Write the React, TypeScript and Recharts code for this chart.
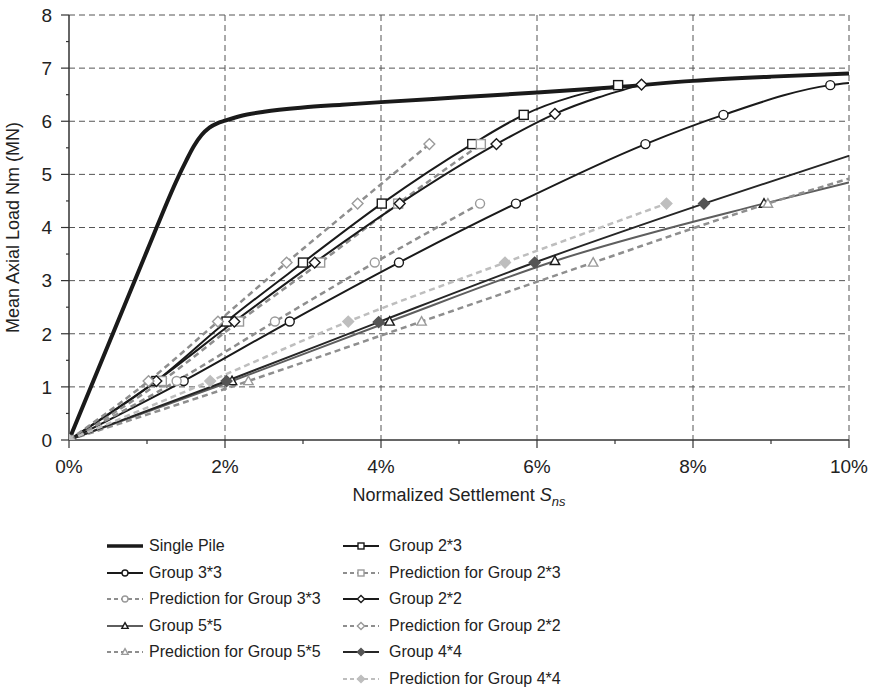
import React from 'react';
import { LineChart, Line, XAxis, YAxis, CartesianGrid } from 'recharts';

type Pt = [number, number];

// settlement (%) vs mean axial load (MN)
const X_TICKS = [0, 1, 2, 3, 4, 5, 6, 7, 8, 9, 10];
const Y_TICKS = [0, 0.5, 1, 1.5, 2, 2.5, 3, 3.5, 4, 4.5, 5, 5.5, 6, 6.5, 7, 7.5, 8];
const X_GRID = [2, 4, 6, 8, 10];
const Y_GRID = [1, 2, 3, 4, 5, 6, 7, 8];

const singlePile: Pt[] = [
  [0, 0], [1.0, 3.56], [1.4, 4.95], [1.5, 5.25], [1.6, 5.53], [1.7, 5.74], [1.8, 5.88],
  [1.9, 5.96], [2.0, 6.01], [2.2, 6.1], [2.5, 6.18], [3.0, 6.26], [3.5, 6.31], [4, 6.36],
  [5, 6.45], [6, 6.54], [7, 6.64], [8, 6.76], [9, 6.84], [10, 6.9],
];
const group33: Pt[] = [[0, 0], [1.47, 1.11], [2.83, 2.23], [4.23, 3.34], [5.73, 4.45], [7.39, 5.57], [8.39, 6.12], [9.76, 6.68], [10, 6.72]];
const pred33: Pt[] = [[0, 0], [1.38, 1.11], [2.64, 2.23], [3.92, 3.34], [5.27, 4.45]];
const group55: Pt[] = [[0, 0], [2.09, 1.11], [4.11, 2.23], [6.23, 3.37], [8.91, 4.45], [10, 4.85]];
const pred55: Pt[] = [[0, 0], [2.3, 1.11], [4.52, 2.23], [6.72, 3.34], [8.96, 4.45], [10, 4.92]];
const group23: Pt[] = [[0, 0], [1.12, 1.11], [2.02, 2.23], [3.0, 3.34], [4.01, 4.45], [5.17, 5.57], [5.83, 6.12], [7.04, 6.68]];
const pred23: Pt[] = [[0, 0], [1.19, 1.11], [2.18, 2.23], [3.22, 3.34], [4.22, 4.45], [5.28, 5.57]];
const group22: Pt[] = [[0, 0], [1.12, 1.11], [2.12, 2.23], [3.15, 3.34], [4.24, 4.45], [5.48, 5.57], [6.23, 6.14], [7.34, 6.69]];
const pred22: Pt[] = [[0, 0], [1.02, 1.11], [1.91, 2.23], [2.79, 3.34], [3.7, 4.45], [4.62, 5.57]];
const group44: Pt[] = [[0, 0], [2.02, 1.11], [3.97, 2.22], [5.97, 3.34], [8.14, 4.45], [10, 5.35]];
const pred44: Pt[] = [[0, 0], [1.81, 1.11], [3.58, 2.23], [5.59, 3.34], [7.66, 4.45]];

const FONT = '"Liberation Sans", Arial, Helvetica, sans-serif';
const INK = '#1a1a1a';
const AXIS = '#333';
const GRID = '#555';
const PRED = '#8e8e8e';
const PRED_MARK = '#9a9a9a';
const LIGHT = '#bebebe';
const TEXT = '#222';

type Shape = 'none' | 'square' | 'circle' | 'diamond' | 'triangle';

interface SeriesDef {
  name: string;
  data: Pt[];
  stroke: string;
  width: number;
  dash?: string;
  shape: Shape;
  markStroke: string;
  markFill: string;
  col: number;
  row: number;
}

const SERIES: SeriesDef[] = [
  { name: 'Single Pile', data: singlePile, stroke: INK, width: 4, shape: 'none', markStroke: INK, markFill: INK, col: 0, row: 0 },
  { name: 'Group 3*3', data: group33, stroke: INK, width: 2, shape: 'circle', markStroke: INK, markFill: '#fff', col: 0, row: 1 },
  { name: 'Prediction for Group 3*3', data: pred33, stroke: PRED, width: 2.5, dash: '6 4', shape: 'circle', markStroke: PRED_MARK, markFill: '#fff', col: 0, row: 2 },
  { name: 'Group 5*5', data: group55, stroke: '#5e5e5e', width: 2, shape: 'triangle', markStroke: INK, markFill: '#fff', col: 0, row: 3 },
  { name: 'Prediction for Group 5*5', data: pred55, stroke: PRED, width: 2.5, dash: '6 4', shape: 'triangle', markStroke: PRED_MARK, markFill: '#fff', col: 0, row: 4 },
  { name: 'Group 2*3', data: group23, stroke: INK, width: 2, shape: 'square', markStroke: INK, markFill: '#fff', col: 1, row: 0 },
  { name: 'Prediction for Group 2*3', data: pred23, stroke: PRED, width: 2.5, dash: '6 4', shape: 'square', markStroke: PRED_MARK, markFill: '#fff', col: 1, row: 1 },
  { name: 'Group 2*2', data: group22, stroke: INK, width: 2, shape: 'diamond', markStroke: INK, markFill: '#fff', col: 1, row: 2 },
  { name: 'Prediction for Group 2*2', data: pred22, stroke: PRED, width: 2.5, dash: '6 4', shape: 'diamond', markStroke: PRED_MARK, markFill: '#fff', col: 1, row: 3 },
  { name: 'Group 4*4', data: group44, stroke: '#262626', width: 2, shape: 'diamond', markStroke: '#555', markFill: '#555', col: 1, row: 4 },
  { name: 'Prediction for Group 4*4', data: pred44, stroke: LIGHT, width: 2.5, dash: '6 4', shape: 'diamond', markStroke: LIGHT, markFill: LIGHT, col: 1, row: 5 },
];

const toRows = (pts: Pt[]) => pts.map(([s, n]) => ({ s, n }));

function Marker({ cx, cy, shape, stroke, fill, size }: any) {
  const h = size / 2;
  if (shape === 'square') {
    return <rect x={cx - h} y={cy - h} width={size} height={size} stroke={stroke} fill={fill} strokeWidth={1.4} />;
  }
  if (shape === 'circle') {
    return <circle cx={cx} cy={cy} r={h} stroke={stroke} fill={fill} strokeWidth={1.4} />;
  }
  if (shape === 'diamond') {
    const d = h * 1.2;
    return <polygon points={`${cx},${cy - d} ${cx + d},${cy} ${cx},${cy + d} ${cx - d},${cy}`} stroke={stroke} fill={fill} strokeWidth={1.4} />;
  }
  if (shape === 'triangle') {
    return <polygon points={`${cx},${cy - h * 1.1} ${cx + h * 1.05},${cy + h * 0.8} ${cx - h * 1.05},${cy + h * 0.8}`} stroke={stroke} fill={fill} strokeWidth={1.4} />;
  }
  return null;
}

function XTick({ x, y, payload }: any) {
  const major = payload.value % 2 === 0;
  return (
    <g>
      <line x1={x} x2={x} y1={y} y2={y + (major ? 8 : 4)} stroke={AXIS} strokeWidth={1.2} />
      {major && (
        <text x={x} y={y + 33} textAnchor="middle" fontSize={19} fill={TEXT} fontFamily={FONT}>
          {payload.value}%
        </text>
      )}
    </g>
  );
}

function YTick({ x, y, payload }: any) {
  const major = Number.isInteger(payload.value);
  return (
    <g>
      <line x1={x - (major ? 8 : 3)} x2={x} y1={y} y2={y} stroke={AXIS} strokeWidth={1.2} />
      {major && (
        <text x={x - 17} y={y} dy="0.36em" textAnchor="end" fontSize={19} fill={TEXT} fontFamily={FONT}>
          {payload.value}
        </text>
      )}
    </g>
  );
}

function XLabel({ viewBox }: any) {
  const cx = viewBox.x + viewBox.width / 2;
  return (
    <text x={cx} y={501} textAnchor="middle" fontSize={18} fill={TEXT} fontFamily={FONT}>
      Normalized Settlement <tspan fontStyle="italic">S</tspan>
      <tspan fontStyle="italic" fontSize={13} dy={5}>ns</tspan>
    </text>
  );
}

function YLabel({ viewBox }: any) {
  const cy = viewBox.y + viewBox.height / 2;
  return (
    <text x={13} y={cy} dy="0.35em" transform={`rotate(-90, 13, ${cy})`} textAnchor="middle" fontSize={18} fill={TEXT} fontFamily={FONT}>
      Mean Axial Load Nm (MN)
    </text>
  );
}

function LegendIcon({ def }: { def: SeriesDef }) {
  return (
    <svg width={38} height={12} style={{ display: 'block' }}>
      <line x1={1} x2={37} y1={6} y2={6} stroke={def.stroke} strokeWidth={def.dash ? 2 : Math.min(def.width, 3.5)} strokeDasharray={def.dash ? '4 3' : undefined} />
      <Marker cx={19} cy={6} shape={def.shape} stroke={def.markStroke} fill={def.markFill} size={6} />
    </svg>
  );
}

const LEGEND_ICON_X = [106, 342];
const LEGEND_TEXT_X = [149, 389];

export default function App() {
  return (
    <div style={{ position: 'absolute', left: 0, top: 0, width: 875, height: 693, background: '#fff', fontFamily: FONT }}>
      <LineChart width={875} height={693} margin={{ top: 15, right: 26, bottom: 193, left: 0 }}>
        <CartesianGrid stroke={GRID} strokeDasharray="6 4" horizontalValues={Y_GRID} verticalValues={X_GRID} />
        <XAxis
          dataKey="s"
          type="number"
          domain={[0, 10]}
          ticks={X_TICKS}
          interval={0}
          allowDataOverflow
          height={60}
          tickSize={0}
          tickMargin={0}
          tick={<XTick />}
          axisLine={{ stroke: AXIS, strokeWidth: 1.5 }}
          label={<XLabel />}
        />
        <YAxis
          type="number"
          domain={[0, 8]}
          ticks={Y_TICKS}
          interval={0}
          allowDataOverflow
          width={69}
          tickSize={0}
          tickMargin={0}
          tick={<YTick />}
          axisLine={{ stroke: AXIS, strokeWidth: 1.5 }}
          label={<YLabel />}
        />
        {SERIES.map((def) => (
          <Line
            key={def.name}
            data={toRows(def.data)}
            dataKey="n"
            name={def.name}
            type="monotone"
            stroke={def.stroke}
            strokeWidth={def.width}
            strokeDasharray={def.dash}
            isAnimationActive={false}
            activeDot={false}
            dot={
              def.shape === 'none'
                ? false
                : (p: any) =>
                    p.payload.s >= 10 ? (
                      <g key={p.index} />
                    ) : (
                      <Marker key={p.index} cx={p.cx} cy={p.cy} shape={def.shape} stroke={def.markStroke} fill={def.markFill} size={9} />
                    )
            }
          />
        ))}
      </LineChart>
      {SERIES.map((def) => {
        const top = 546 + def.row * 26.6;
        return (
          <React.Fragment key={def.name}>
            <div style={{ position: 'absolute', left: LEGEND_ICON_X[def.col], top: top - 6 }}>
              <LegendIcon def={def} />
            </div>
            <div style={{ position: 'absolute', left: LEGEND_TEXT_X[def.col], top: top - 10, fontSize: 16, lineHeight: '20px', color: TEXT, whiteSpace: 'nowrap' }}>
              {def.name}
            </div>
          </React.Fragment>
        );
      })}
    </div>
  );
}
